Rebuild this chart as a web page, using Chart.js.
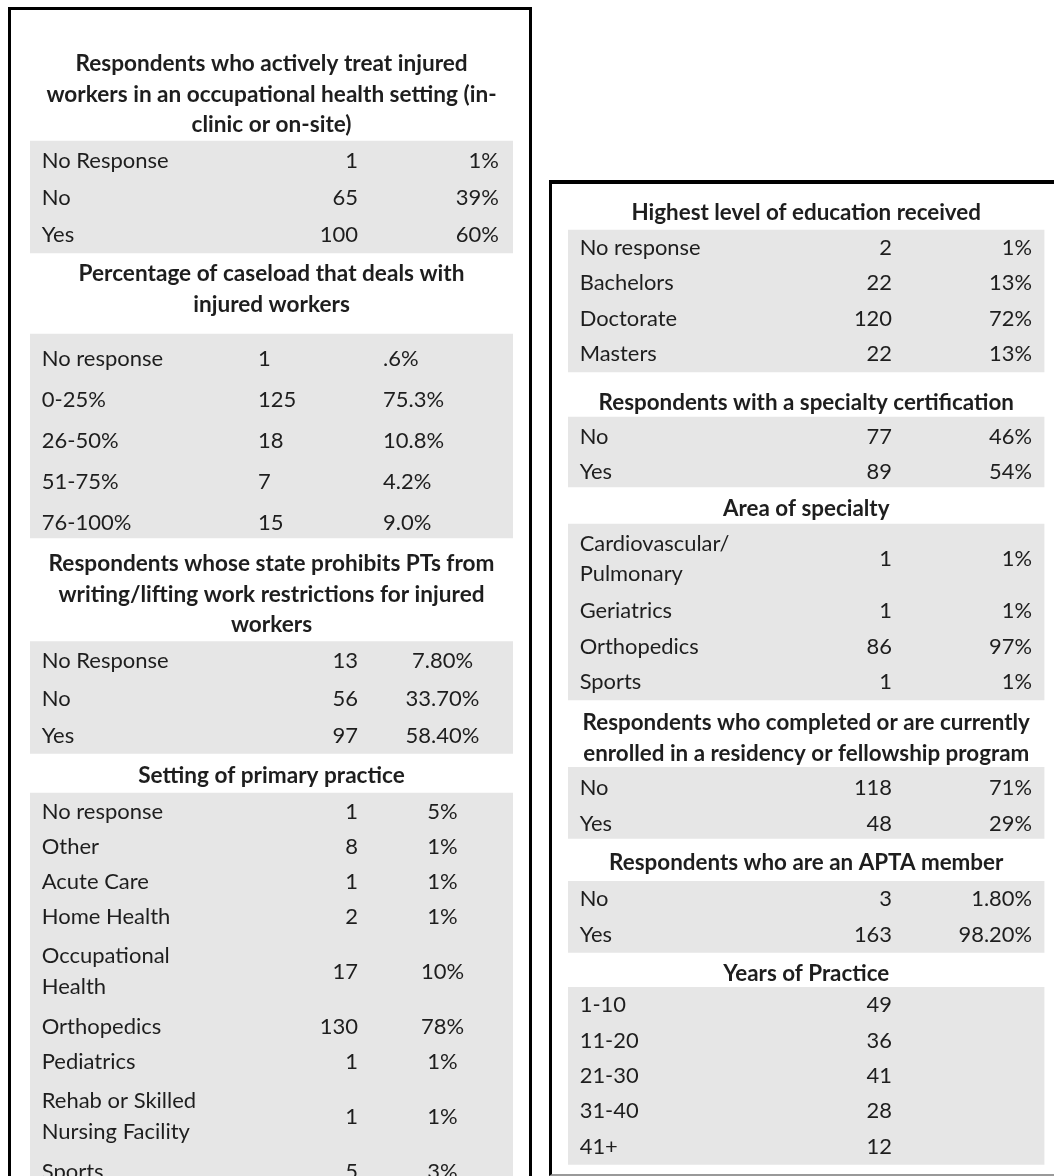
<!DOCTYPE html>
<html>
<head>
<meta charset="utf-8">
<script src="https://cdn.jsdelivr.net/npm/chart.js@4.4.1/dist/chart.umd.min.js"></script>
<style>
  html, body { margin: 0; padding: 0; background: #fff; overflow: hidden; width: 1054px; height: 1176px; }
  .box { position: absolute; box-sizing: border-box; }
  #boxLeft { left: 7.5px; top: 6.5px; width: 524px; height: 1300px; border: 3.5px solid #000; }
  #boxRight { left: 549px; top: 180px; width: 600px; height: 996px; border-left: 3.5px solid #000; border-top: 4px solid #000; border-bottom: 2px solid #999; }
  canvas { position: absolute; top: 0; }
  #leftChart { left: 0; }
  #rightChart { left: 540px; }
</style>
</head>
<body>
<div class="box" id="boxLeft"></div>
<div class="box" id="boxRight"></div>
<canvas id="leftChart" width="540" height="1176"></canvas>
<canvas id="rightChart" width="514" height="1176"></canvas>
<script>
// ---- left table ----
const treatTitle = ['Respondents who actively treat injured', 'workers in an occupational health setting (in-', 'clinic or on-site)'];
const treatLabels = ['No Response', 'No', 'Yes'];
const treatCounts = [1, 65, 100];
const treatPcts = ['1%', '39%', '60%'];

const caseloadTitle = ['Percentage of caseload that deals with', 'injured workers'];
const caseloadLabels = ['No response', '0-25%', '26-50%', '51-75%', '76-100%'];
const caseloadCounts = [1, 125, 18, 7, 15];
const caseloadPcts = ['.6%', '75.3%', '10.8%', '4.2%', '9.0%'];

const prohibitTitle = ['Respondents whose state prohibits PTs from', 'writing/lifting work restrictions for injured', 'workers'];
const prohibitLabels = ['No Response', 'No', 'Yes'];
const prohibitCounts = [13, 56, 97];
const prohibitPcts = ['7.80%', '33.70%', '58.40%'];

const settingTitle = ['Setting of primary practice'];
const settingLabels = ['No response', 'Other', 'Acute Care', 'Home Health', 'Occupational\nHealth', 'Orthopedics', 'Pediatrics', 'Rehab or Skilled\nNursing Facility', 'Sports'];
const settingCounts = [1, 8, 1, 2, 17, 130, 1, 1, 5];
const settingPcts = ['5%', '1%', '1%', '1%', '10%', '78%', '1%', '1%', '3%'];

// ---- right table ----
const educationTitle = ['Highest level of education received'];
const educationLabels = ['No response', 'Bachelors', 'Doctorate', 'Masters'];
const educationCounts = [2, 22, 120, 22];
const educationPcts = ['1%', '13%', '72%', '13%'];

const certTitle = ['Respondents with a specialty certification'];
const certLabels = ['No', 'Yes'];
const certCounts = [77, 89];
const certPcts = ['46%', '54%'];

const specialtyTitle = ['Area of specialty'];
const specialtyLabels = ['Cardiovascular/\nPulmonary', 'Geriatrics', 'Orthopedics', 'Sports'];
const specialtyCounts = [1, 1, 86, 1];
const specialtyPcts = ['1%', '1%', '97%', '1%'];

const residencyTitle = ['Respondents who completed or are currently', 'enrolled in a residency or fellowship program'];
const residencyLabels = ['No', 'Yes'];
const residencyCounts = [118, 48];
const residencyPcts = ['71%', '29%'];

const aptaTitle = ['Respondents who are an APTA member'];
const aptaLabels = ['No', 'Yes'];
const aptaCounts = [3, 163];
const aptaPcts = ['1.80%', '98.20%'];

const yearsTitle = ['Years of Practice'];
const yearsLabels = ['1-10', '11-20', '21-30', '31-40', '41+'];
const yearsCounts = [49, 36, 41, 28, 12];
const yearsPcts = [];

// styling / spacing
const GRAY = '#e6e6e6';
const TEXT = '#1e1e1e';
const FONT = 'Lato';
const LINE_H = 30.4;

const leftSections = [
  { title: treatTitle, labels: treatLabels, counts: treatCounts, pcts: treatPcts },
  { title: caseloadTitle, labels: caseloadLabels, counts: caseloadCounts, pcts: caseloadPcts },
  { title: prohibitTitle, labels: prohibitLabels, counts: prohibitCounts, pcts: prohibitPcts },
  { title: settingTitle, labels: settingLabels, counts: settingCounts, pcts: settingPcts }
];
const leftSpecs = [
  { titleGap: 64, bandGap: 16.2, rowH: 37.3, extra: 34, shift: 1, count: ['right', 328], pct: ['right', 469] },
  { titleGap: 21, bandGap: 29.7, rowH: 40.8, extra: 34, shift: 5, count: ['left', 228], pct: ['left', 353] },
  { titleGap: 26, bandGap: 16.8, rowH: 37.3, extra: 34, shift: 1, count: ['right', 328], pct: ['center', 412.5] },
  { titleGap: 22.5, bandGap: 17, rowH: 35, extra: 40, shift: 1, count: ['right', 328], pct: ['center', 412.5] }
];

const rightSections = [
  { title: educationTitle, labels: educationLabels, counts: educationCounts, pcts: educationPcts },
  { title: certTitle, labels: certLabels, counts: certCounts, pcts: certPcts },
  { title: specialtyTitle, labels: specialtyLabels, counts: specialtyCounts, pcts: specialtyPcts },
  { title: residencyTitle, labels: residencyLabels, counts: residencyCounts, pcts: residencyPcts },
  { title: aptaTitle, labels: aptaLabels, counts: aptaCounts, pcts: aptaPcts },
  { title: yearsTitle, labels: yearsLabels, counts: yearsCounts, pcts: yearsPcts }
];
const rightCols = { count: ['right', 324], pct: ['right', 464] };
const rightSpecs = [
  { titleGap: 213, bandGap: 17, rowH: 35.5, extra: 34, shift: 0, ...rightCols },
  { titleGap: 31, bandGap: 14, rowH: 35, extra: 34, shift: 2, ...rightCols },
  { titleGap: 22, bandGap: 15, rowH: 35.5, extra: 34, shift: 0, ...rightCols },
  { titleGap: 23, bandGap: 14, rowH: 35.5, extra: 34, shift: 3, ...rightCols },
  { titleGap: 24, bandGap: 19, rowH: 35.5, extra: 34, shift: 0, ...rightCols },
  { titleGap: 21, bandGap: 14, rowH: 35.4, extra: 34, shift: 0, ...rightCols }
];

// work out where every title line, row and grey band sits (in y-axis units)
function layoutPanel(sections, specs) {
  let y = 0;
  return sections.map((s, i) => {
    const sp = specs[i];
    y += sp.titleGap;
    const titleYs = s.title.map((t, k) => y + k * LINE_H);
    y = titleYs[titleYs.length - 1] + sp.bandGap;
    const bandTop = y;
    const rows = s.labels.map((lab, k) => {
      const lines = lab.split('\n');
      const h = sp.rowH + (lines.length - 1) * sp.extra;
      const r = { lines, count: s.counts[k], pct: s.pcts[k] || '', y: y + h / 2 + sp.shift };
      y += h;
      return r;
    });
    return { title: s.title, sp, titleYs, band: [bandTop, y], rows };
  });
}

function textPlugin(panel, bandW, size, boldSize) {
  return {
    id: 'tableText',
    afterDatasetsDraw(chart) {
      const { ctx } = chart;
      const yS = chart.scales.y;
      const cS = chart.scales.xCol;
      ctx.save();
      ctx.fillStyle = TEXT;
      ctx.textBaseline = 'middle';
      panel.forEach(sec => {
        ctx.font = `bold ${boldSize}px ${FONT}`;
        ctx.textAlign = 'center';
        sec.title.forEach((t, k) => ctx.fillText(t, cS.getPixelForValue(bandW / 2), yS.getPixelForValue(sec.titleYs[k])));
        ctx.font = `${size}px ${FONT}`;
        sec.rows.forEach(r => {
          ctx.textAlign = 'left';
          r.lines.forEach((ln, k) => {
            const off = (k - (r.lines.length - 1) / 2) * LINE_H;
            ctx.fillText(ln, cS.getPixelForValue(11.7), yS.getPixelForValue(r.y + off));
          });
          ctx.textAlign = sec.sp.count[0];
          ctx.fillText(String(r.count), cS.getPixelForValue(sec.sp.count[1]), yS.getPixelForValue(r.y));
          ctx.textAlign = sec.sp.pct[0];
          ctx.fillText(r.pct, cS.getPixelForValue(sec.sp.pct[1]), yS.getPixelForValue(r.y));
        });
      });
      ctx.restore();
    }
  };
}

function drawPanel(id, sections, specs, padLeft, padRight, size, boldSize) {
  const canvas = document.getElementById(id);
  const panel = layoutPanel(sections, specs);
  const bandW = canvas.width - padLeft - padRight;
  new Chart(canvas, {
    type: 'bar',
    data: {
      labels: ['rows'],
      datasets: panel.map(sec => ({
        data: [sec.band],
        backgroundColor: GRAY,
        borderWidth: 0,
        grouped: false,
        barPercentage: 1,
        categoryPercentage: 1
      }))
    },
    options: {
      responsive: false,
      animation: false,
      events: [],
      layout: { padding: { left: padLeft, right: padRight, top: 0, bottom: 0 } },
      scales: {
        x: { display: false },
        xCol: { type: 'linear', axis: 'x', offset: false, min: 0, max: bandW, display: false },
        y: { type: 'linear', reverse: true, offset: false, min: 0, max: canvas.height, display: false }
      },
      plugins: { legend: { display: false }, tooltip: { enabled: false } }
    },
    plugins: [textPlugin(panel, bandW, size, boldSize)]
  });
}

drawPanel('leftChart', leftSections, leftSpecs, 30, 27, 22, 22.6);
drawPanel('rightChart', rightSections, rightSpecs, 28, 9.5, 21.9, 22.4);
</script>
</body>
</html>
